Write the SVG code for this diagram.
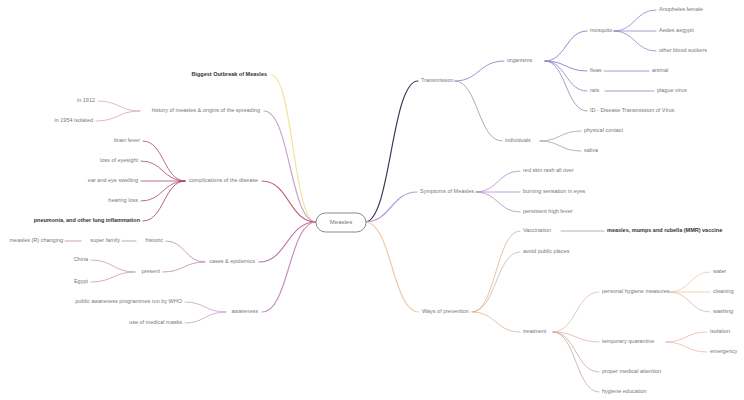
<svg xmlns="http://www.w3.org/2000/svg" width="744" height="400" viewBox="0 0 744 400">
<style>
text{font-family:"Liberation Sans",Arial,sans-serif;font-size:5.5px;fill:#777777;dominant-baseline:middle}
.l{text-anchor:end}
.b{font-weight:bold;fill:#333}
.c{fill:none;stroke-linecap:round}
.w1{stroke-width:1.2}
.w2{stroke-width:0.8}
</style>
<rect width="744" height="400" fill="#ffffff"/>
<g id="connectors">
<path class="c w1" stroke="#3a3550" d="M365,222 C391,222 391,81 418,81"/>
<path class="c w1" stroke="#b79ad6" d="M365,222 C391,222 391,192 417,192"/>
<path class="c w1" stroke="#f2c9a4" d="M365,222 C392,222 392,312 419,312"/>
<path class="c w2" stroke="#7d78c2" d="M455,81 C479,81 479,61 504,61"/>
<path class="c w2" stroke="#9b92ad" d="M455,81 C478,81 478,141 502,141"/>
<path class="c w2" stroke="#7470c8" d="M545,61 C566,61 566,31 587,31"/>
<path class="c w2" stroke="#7470c8" d="M545,61 C566,61 566,71 587,71"/>
<path class="c w2" stroke="#8a80c0" d="M545,61 C566,61 566,91 587,91"/>
<path class="c w2" stroke="#9088b8" d="M545,61 C566,61 566,111 587,111"/>
<path class="c w2" stroke="#8f86c8" d="M614,31 C635,31 635,10 656,10"/>
<path class="c w2" stroke="#8f86c8" d="M614,31 L656,31"/>
<path class="c w2" stroke="#8f86c8" d="M614,31 C635,31 635,51 656,51"/>
<path class="c w2" stroke="#8f86c8" d="M604,71 L649,71"/>
<path class="c w2" stroke="#8f86c8" d="M605,91 L654,91"/>
<path class="c w2" stroke="#a39cb0" d="M540,141 C560,141 560,131 581,131"/>
<path class="c w2" stroke="#a39cb0" d="M540,141 C560,141 560,151 581,151"/>
<path class="c w2" stroke="#b48ad8" d="M476,192 C498,192 498,171 520,171"/>
<path class="c w2" stroke="#b48ad8" d="M476,192 L520,192"/>
<path class="c w2" stroke="#b48ad8" d="M476,192 C498,192 498,212 520,212"/>
<path class="c w2" stroke="#d9b49a" d="M472,312 C496,312 496,231 520,231"/>
<path class="c w2" stroke="#d9b49a" d="M472,312 C496,312 496,252 520,252"/>
<path class="c w2" stroke="#d9b49a" d="M472,312 C496,312 496,332 520,332"/>
<path class="c w2" stroke="#a0a0a0" d="M561,231 L604,231"/>
<path class="c w2" stroke="#e8b8a0" d="M553,332 C576,332 576,292 599,292"/>
<path class="c w2" stroke="#e0b0a8" d="M553,332 C576,332 576,342 599,342"/>
<path class="c w2" stroke="#c8a8a0" d="M553,332 C576,332 576,372 599,372"/>
<path class="c w2" stroke="#c8a8a0" d="M553,332 C576,332 576,392 599,392"/>
<path class="c w2" stroke="#f2c8a0" d="M670,292 C690,292 690,272 710,272"/>
<path class="c w2" stroke="#f2c8a0" d="M670,292 L710,292"/>
<path class="c w2" stroke="#e0b8a0" d="M670,292 C690,292 690,312 710,312"/>
<path class="c w2" stroke="#e8b8a8" d="M666,342 C686,342 686,332 707,332"/>
<path class="c w2" stroke="#e8b8a8" d="M666,342 C686,342 686,352 707,352"/>
<path class="c w1" stroke="#f3e39a" d="M316,222 C293,222 293,75 271,75"/>
<path class="c w1" stroke="#c8a4cf" d="M316,222 C290,222 290,111 264,111"/>
<path class="c w1" stroke="#c05878" d="M316,222 C289,222 289,181 262,181"/>
<path class="c w1" stroke="#c070a8" d="M316,222 C287,222 287,262 259,262"/>
<path class="c w1" stroke="#c890c0" d="M316,222 C289,222 289,312 262,312"/>
<path class="c w2" stroke="#d4a8b8" d="M140,111 C119,111 119,101 98,101"/>
<path class="c w2" stroke="#d4a8b8" d="M140,111 C118,111 118,121 96,121"/>
<path class="c w2" stroke="#b04870" d="M185,181 C164,181 164,141 143,141"/>
<path class="c w2" stroke="#b04870" d="M185,181 C163,181 163,161 141,161"/>
<path class="c w2" stroke="#b04870" d="M185,181 L141,181"/>
<path class="c w2" stroke="#b04870" d="M185,181 C163,181 163,201 141,201"/>
<path class="c w2" stroke="#a03a60" d="M185,181 C164,181 164,221 143,221"/>
<path class="c w2" stroke="#b888b0" d="M205,262 C185,262 185,241 166,241"/>
<path class="c w2" stroke="#b888b0" d="M205,262 C184,262 184,272 163,272"/>
<path class="c w2" stroke="#b888b0" d="M136,241 L122,241"/>
<path class="c w2" stroke="#b888b0" d="M81,241 L65,241"/>
<path class="c w2" stroke="#c898b0" d="M135,272 C113,272 113,260 91,260"/>
<path class="c w2" stroke="#c898b0" d="M135,272 C113,272 113,282 91,282"/>
<path class="c w2" stroke="#c8a0c8" d="M226,312 C205,312 205,302 185,302"/>
<path class="c w2" stroke="#c8a0c8" d="M226,312 C205,312 205,323 185,323"/>
</g>
<g id="node-center"><rect x="316" y="213" width="50" height="19" rx="9.5" fill="#ffffff" stroke="#8a8a8a" stroke-width="1"/><text x="341" y="222.5" style="text-anchor:middle;font-size:6px">Measles</text></g>
<g id="node-transmission"><text x="421" y="81">Transmission</text></g>
<g id="node-organisms"><text x="507" y="61">organisms</text></g>
<g id="node-mosquito"><text x="590" y="31">mosquito</text></g>
<g id="node-anopheles"><text x="659" y="10">Anopheles female</text></g>
<g id="node-aedes"><text x="659" y="31">Aedes aegypti</text></g>
<g id="node-other"><text x="659" y="51">other blood suckers</text></g>
<g id="node-fleas"><text x="590" y="71">fleas</text></g>
<g id="node-animal"><text x="652" y="71">animal</text></g>
<g id="node-rats"><text x="590" y="91">rats</text></g>
<g id="node-plague"><text x="657" y="91">plague virus</text></g>
<g id="node-id"><text x="590" y="111">ID - Disease Transmission of Virus</text></g>
<g id="node-individuals"><text x="505" y="141">individuals</text></g>
<g id="node-contact"><text x="584" y="131">physical contact</text></g>
<g id="node-saliva"><text x="584" y="151">saliva</text></g>
<g id="node-symptoms"><text x="420" y="192">Symptoms of Measles</text></g>
<g id="node-rash"><text x="523" y="171">red skin rash all over</text></g>
<g id="node-burning"><text x="523" y="192">burning sensation in eyes</text></g>
<g id="node-fever"><text x="523" y="212">persistent high fever</text></g>
<g id="node-ways"><text x="422" y="312">Ways of prevention</text></g>
<g id="node-vaccination"><text x="523" y="231">Vaccination</text></g>
<g id="node-mmr"><text class="b" x="607" y="231">measles, mumps and rubella (MMR) vaccine</text></g>
<g id="node-avoid"><text x="523" y="252">avoid public places</text></g>
<g id="node-treatment"><text x="523" y="332">treatment</text></g>
<g id="node-hygiene"><text x="602" y="292">personal hygiene measures</text></g>
<g id="node-water"><text x="713" y="272">water</text></g>
<g id="node-cleaning"><text x="713" y="292">cleaning</text></g>
<g id="node-washing"><text x="713" y="312">washing</text></g>
<g id="node-quarantine"><text x="602" y="342">temporary quarantine</text></g>
<g id="node-isolation"><text x="710" y="332">isolation</text></g>
<g id="node-emergency"><text x="710" y="352">emergency</text></g>
<g id="node-medical"><text x="602" y="372">proper medical attention</text></g>
<g id="node-education"><text x="602" y="392">hygiene education</text></g>
<g id="node-outbreak"><text class="l b" x="267" y="75">Biggest Outbreak of Measles</text></g>
<g id="node-history"><text class="l" x="260" y="111">history of measles &amp; origins of the spreading</text></g>
<g id="node-1912"><text class="l" x="95" y="101">in 1912</text></g>
<g id="node-1954"><text class="l" x="93" y="121">in 1954 isolated</text></g>
<g id="node-complications"><text class="l" x="258" y="181">complications of the disease</text></g>
<g id="node-brain"><text class="l" x="140" y="141">brain fever</text></g>
<g id="node-eyesight"><text class="l" x="138" y="161">loss of eyesight</text></g>
<g id="node-swelling"><text class="l" x="138" y="181">ear and eye swelling</text></g>
<g id="node-hearing"><text class="l" x="138" y="201">hearing loss</text></g>
<g id="node-pneumonia"><text class="l b" x="140" y="221">pneumonia, and other lung inflammation</text></g>
<g id="node-cases"><text class="l" x="255" y="262">cases &amp; epidemics</text></g>
<g id="node-historic"><text class="l" x="163" y="241">historic</text></g>
<g id="node-family"><text class="l" x="120" y="241">super family</text></g>
<g id="node-changing"><text class="l" x="63" y="241">measles (R) changing</text></g>
<g id="node-present"><text class="l" x="160" y="272">present</text></g>
<g id="node-china"><text class="l" x="88" y="260">China</text></g>
<g id="node-egypt"><text class="l" x="88" y="282">Egypt</text></g>
<g id="node-awareness"><text class="l" x="258" y="312">awareness</text></g>
<g id="node-who"><text class="l" x="182" y="302">public awareness programmes run by WHO</text></g>
<g id="node-masks"><text class="l" x="182" y="323">use of medical masks</text></g>
</svg>
